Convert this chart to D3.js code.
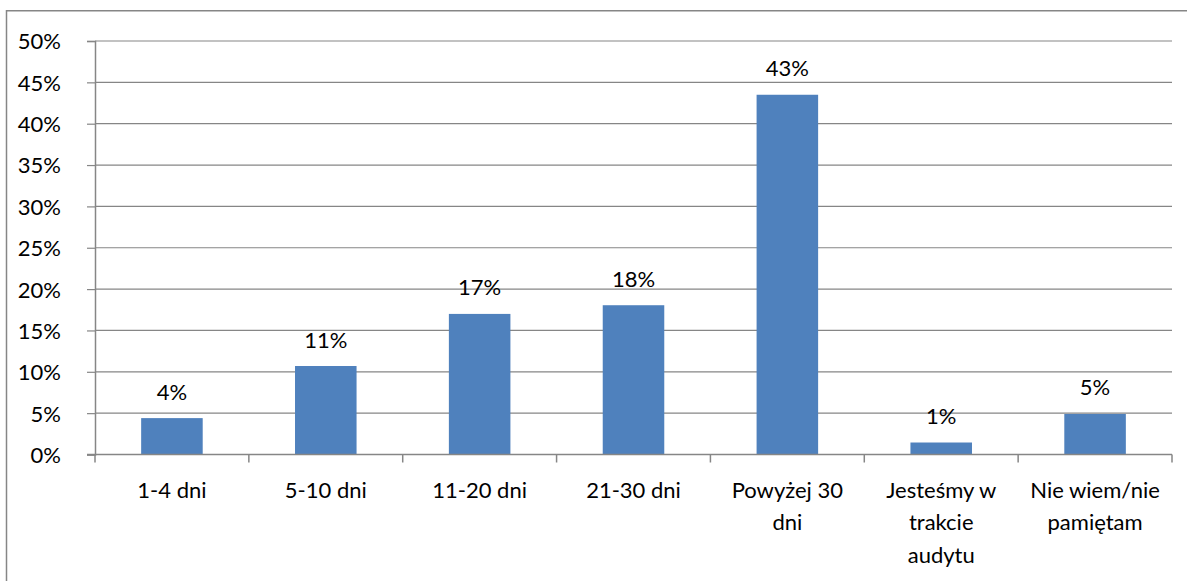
<!DOCTYPE html>
<html>
<head>
<meta charset="utf-8">
<script src="https://cdn.jsdelivr.net/npm/d3@7"></script>
<style>
  html, body { margin: 0; padding: 0; background: #fff; }
  svg { display: block; }
  text { font-family: Lato, "Open Sans", sans-serif; fill: #000; }
</style>
</head>
<body>
<svg id="chart" width="1187" height="581"></svg>
<script>
// Categories (multi-line axis labels) and shares of responses
const categories = ["1-4 dni", "5-10 dni", "11-20 dni", "21-30 dni", "Powyżej 30 dni", "Jesteśmy w trakcie audytu", "Nie wiem/nie pamiętam"];
const categoryLines = [
  ["1-4 dni"],
  ["5-10 dni"],
  ["11-20 dni"],
  ["21-30 dni"],
  ["Powyżej 30", "dni"],
  ["Jesteśmy w", "trakcie", "audytu"],
  ["Nie wiem/nie", "pamiętam"]
];
const values = [4.4, 10.7, 17.0, 18.05, 43.5, 1.45, 4.9];
const valueLabels = ["4%", "11%", "17%", "18%", "43%", "1%", "5%"];
const yTicks = [0, 5, 10, 15, 20, 25, 30, 35, 40, 45, 50];

const svg = d3.select("#chart");
const gridColor = "#868686";
const barColor = "#4F81BD";
const fontSize = 22;

const plot = { left: 95, right: 1172, top: 41, bottom: 454.5 };

// Outer chart frame (extends past the visible area on the right and bottom)
svg.append("rect")
  .attr("x", 6.5).attr("y", 10.75)
  .attr("width", 1300).attr("height", 700)
  .attr("fill", "none")
  .attr("stroke", gridColor)
  .attr("stroke-width", 1.5);

const x = d3.scaleBand()
  .domain(categories)
  .range([plot.left, plot.right])
  .paddingInner(0.6)
  .paddingOuter(0.3);

const xOuter = d3.scaleBand()
  .domain(categories)
  .range([plot.left, plot.right])
  .padding(0);

const y = d3.scaleLinear()
  .domain([0, 50])
  .range([plot.bottom, plot.top]);

// Horizontal gridlines
svg.append("g")
  .selectAll("line")
  .data(yTicks.filter(d => d > 0))
  .join("line")
  .attr("x1", plot.left).attr("x2", plot.right)
  .attr("y1", d => y(d)).attr("y2", d => y(d))
  .attr("stroke", gridColor)
  .attr("stroke-width", 1.2);

// Y axis
const yAxis = svg.append("g")
  .attr("transform", `translate(${plot.left},0)`)
  .call(d3.axisLeft(y).tickValues(yTicks).tickSize(8).tickPadding(26).tickFormat(d => d + "%"));
yAxis.select(".domain").attr("stroke", gridColor).attr("stroke-width", 1.5);
yAxis.selectAll(".tick line").attr("stroke", gridColor).attr("stroke-width", 1.2);
yAxis.selectAll(".tick text")
  .attr("font-family", "Lato, 'Open Sans', sans-serif")
  .attr("font-size", fontSize)
  .attr("fill", "#000")
  .attr("dy", "0.36em");

// Bars
svg.append("g")
  .selectAll("rect")
  .data(values)
  .join("rect")
  .attr("x", (d, i) => x(categories[i]))
  .attr("width", x.bandwidth())
  .attr("y", d => y(d))
  .attr("height", d => y(0) - y(d))
  .attr("fill", barColor);

// X axis baseline with category-boundary ticks
const bounds = categories.map(c => xOuter(c)).concat([plot.right]);
svg.append("line")
  .attr("x1", plot.left - 8).attr("x2", plot.right)
  .attr("y1", plot.bottom).attr("y2", plot.bottom)
  .attr("stroke", gridColor).attr("stroke-width", 1.5);
svg.append("g")
  .selectAll("line")
  .data(bounds)
  .join("line")
  .attr("x1", d => d).attr("x2", d => d)
  .attr("y1", plot.bottom).attr("y2", plot.bottom + 8)
  .attr("stroke", gridColor).attr("stroke-width", 1.5);

// Category labels
const xl = svg.append("g")
  .selectAll("text")
  .data(categoryLines)
  .join("text")
  .attr("text-anchor", "middle")
  .attr("font-size", fontSize)
  .attr("x", (d, i) => xOuter(categories[i]) + xOuter.bandwidth() / 2)
  .attr("y", plot.bottom + 43);
xl.selectAll("tspan")
  .data(d => d)
  .join("tspan")
  .attr("x", function () { return this.parentNode.getAttribute("x"); })
  .attr("dy", (d, i) => i === 0 ? 0 : 32.5)
  .text(d => d);

// Value labels above bars
svg.append("g")
  .selectAll("text")
  .data(values)
  .join("text")
  .attr("text-anchor", "middle")
  .attr("font-size", fontSize)
  .attr("x", (d, i) => x(categories[i]) + x.bandwidth() / 2)
  .attr("y", d => y(d) - 18.5)
  .text((d, i) => valueLabels[i]);
</script>
</body>
</html>
